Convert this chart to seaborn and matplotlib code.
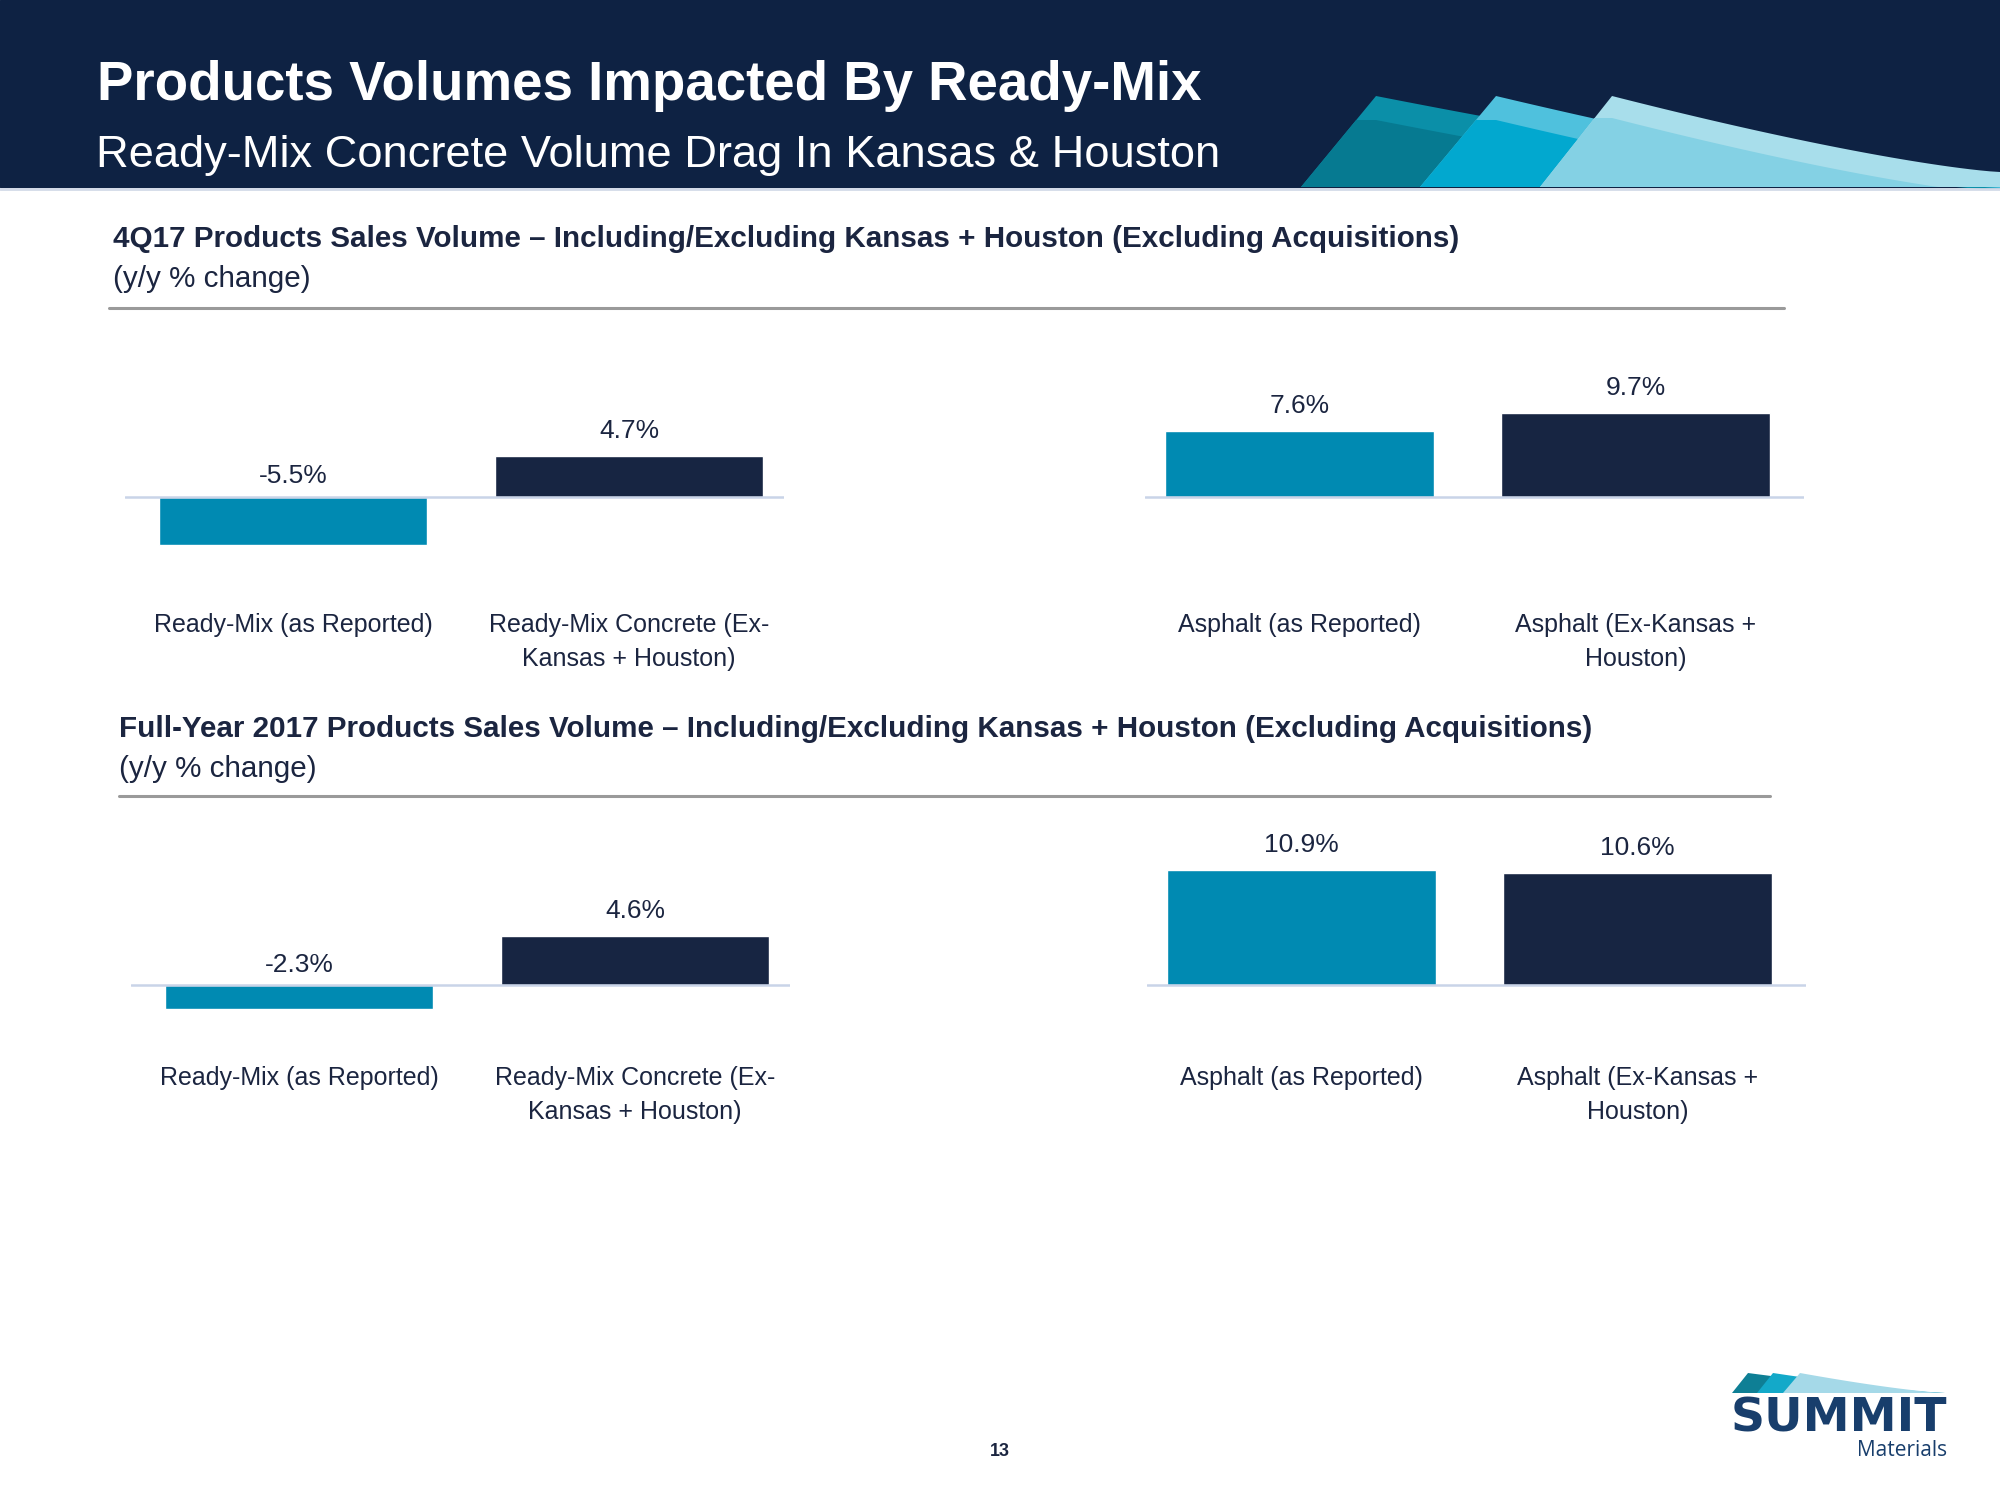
import numpy as np
import matplotlib
matplotlib.use("Agg")
import matplotlib.pyplot as plt
import matplotlib.transforms as mtransforms
from matplotlib.patches import Polygon, Rectangle
from matplotlib.lines import Line2D
import seaborn as sns

# dati (variazione % a/a)
rm_labels = ["Ready-Mix (as Reported)", "Ready-Mix Concrete (Ex-\nKansas + Houston)"]
asphalt_labels = ["Asphalt (as Reported)", "Asphalt (Ex-Kansas +\nHouston)"]
q4_readymix = [-5.5, 4.7]
q4_asphalt = [7.6, 9.7]
fy_readymix = [-2.3, 4.6]
fy_asphalt = [10.9, 10.6]

title = "Products Volumes Impacted By Ready-Mix"
subtitle = "Ready-Mix Concrete Volume Drag In Kansas & Houston"
q4_heading = "4Q17 Products Sales Volume \u2013 Including/Excluding Kansas + Houston (Excluding Acquisitions)"
fy_heading = "Full-Year 2017 Products Sales Volume \u2013 Including/Excluding Kansas + Houston (Excluding Acquisitions)"
unit_label = "(y/y % change)"

TEAL = "#008AB2"
NAVY = "#172542"
HEADER = "#0E2243"
TEXT = "#1B2540"
BASELINE = "#C9D4E8"

sns.set_theme(style="white")
plt.rcParams["font.family"] = ["Liberation Sans Narrow", "Liberation Sans", "DejaVu Sans"]

W, H = 2000, 1500
fig = plt.figure(figsize=(20, 15), dpi=100)
fig.patch.set_facecolor("white")


def fx(x):
    return x / W


def fy(y):
    return 1 - y / H


def px_axes(left, top, width, height):
    return fig.add_axes([fx(left), fy(top + height), width / W, height / H])


# --- intestazione ---
fig.add_artist(Rectangle((0, fy(187)), 1, 187 / H, transform=fig.transFigure,
                         color=HEADER, zorder=0))
fig.add_artist(Line2D([0, 1], [fy(189), fy(189)], color="#D3DAE8", lw=2,
                      transform=fig.transFigure))


def top_curve(px, py, x_end, y_end, n=40):
    t = np.linspace(0, 1, n)
    xs = px + t * (x_end - px)
    ys = py + (y_end - py) * (1 - (1 - t) ** 1.3)
    return list(zip(xs, ys))


def swoosh(left_bottom, peak, base_y, x_end, y_end, upper, lower, band):
    pts = [left_bottom, peak] + top_curve(peak[0], peak[1], x_end, y_end) + [(x_end, base_y)]
    shape = Polygon([(fx(x), fy(y)) for x, y in pts], closed=True,
                    transform=fig.transFigure, facecolor=upper, edgecolor="none")
    fig.add_artist(shape)
    low = [(peak[0] - 300, peak[1] + band)] + \
        [(x, y + band) for x, y in top_curve(peak[0], peak[1], x_end, y_end)] + \
        [(x_end + 50, base_y + 50), (peak[0] - 300, base_y + 50)]
    low_patch = Polygon([(fx(x), fy(y)) for x, y in low], closed=True,
                        transform=fig.transFigure, facecolor=lower, edgecolor="none")
    fig.add_artist(low_patch)
    low_patch.set_clip_path(shape)


swoosh((1301, 187), (1376, 96), 187, 2000, 190, "#0B8FA8", "#067A91", 24)
swoosh((1420, 187), (1496, 96), 187, 2000, 188, "#4FC1DD", "#02A8CF", 24)
swoosh((1540, 187), (1612, 96), 187, 2000, 172, "#A8DEEB", "#84D1E4", 22)

fig.text(fx(97), fy(100), title, color="white", fontsize=39.3, fontweight="bold", va="baseline")
fig.text(fx(96), fy(167), subtitle, color="white", fontsize=32.6, va="baseline")

# --- titoli delle sezioni ---
for x0, base, heading, rule_y, rule_x in [
    (113, 247, q4_heading, 308, (109, 1784)),
    (119, 737, fy_heading, 796, (119, 1770)),
]:
    fig.text(fx(x0), fy(base), heading, color=TEXT, fontsize=21.3, fontweight="bold", va="baseline")
    fig.text(fx(x0), fy(base + 40), unit_label, color=TEXT, fontsize=21.3, va="baseline")
    fig.add_artist(Line2D([fx(rule_x[0]), fx(rule_x[1])], [fy(rule_y), fy(rule_y)],
                          color="#9A9A9A", lw=2.2, transform=fig.transFigure))

# --- pannelli a barre ---
SLOT = 336  # px per categoria
LINE_PITCH = 34  # px tra le righe delle etichette


def panel(left, values, labels, xlim, top, bottom, base_px, ppu, label_base, neg_off):
    width = (xlim[1] - xlim[0]) * SLOT
    ax = px_axes(left, top, width, bottom - top)
    sns.barplot(x=labels, y=values, hue=labels, palette=[TEAL, NAVY], order=labels,
                hue_order=labels, width=0.8, saturation=1, legend=False, ax=ax, zorder=2)
    ax.set_xlim(*xlim)
    ax.set_ylim(-(bottom - base_px) / ppu, (base_px - top) / ppu)
    ax.axhline(0, color=BASELINE, lw=1.8, zorder=3)
    ax.axis("off")
    for i, v in enumerate(values):
        ax.annotate(f"{v:.1f}%", (i, max(v, 0)), xytext=(0, 13 if v > 0 else neg_off),
                    textcoords="offset points", ha="center", va="baseline",
                    fontsize=19, color=TEXT)
    trans = mtransforms.blended_transform_factory(ax.transData, fig.transFigure)
    for i, lab in enumerate(labels):
        for k, line in enumerate(lab.split("\n")):
            ax.text(i, fy(label_base + k * LINE_PITCH), line, transform=trans,
                    ha="center", va="baseline", fontsize=18, color=TEXT)
    return ax


panel(125, q4_readymix, rm_labels, (-0.5, 1.46), 370, 560, 497, 8.7, 632, 10)
panel(1145, q4_asphalt, asphalt_labels, (-0.46, 1.5), 370, 560, 497, 8.7, 632, 10)
panel(131, fy_readymix, rm_labels, (-0.5, 1.46), 820, 1030, 984.5, 10.5, 1085, 9)
panel(1147, fy_asphalt, asphalt_labels, (-0.46, 1.5), 820, 1030, 984.5, 10.5, 1085, 9)

# --- numero di pagina e logo ---
fig.text(fx(1000), fy(1456), "13", ha="center", va="baseline", fontsize=13,
         fontweight="bold", color=TEXT)

for lb, pk, col in [((1732, 1393), (1748, 1373), "#0E7F95"),
                    ((1757, 1393), (1773, 1373), "#13A9C9"),
                    ((1783, 1393), (1800, 1373), "#A5D9E8")]:
    pts = [lb, pk] + top_curve(pk[0], pk[1], 1945, 1393) + [(1945, 1393)]
    fig.add_artist(Polygon([(fx(x), fy(y)) for x, y in pts], closed=True,
                           transform=fig.transFigure, facecolor=col, edgecolor="none"))

fig.text(fx(1947), fy(1431), "SUMMIT", ha="right", va="baseline", fontsize=34,
         fontweight="bold", color="#183E6C", family=["DejaVu Sans"])
fig.text(fx(1947), fy(1456), "Materials", ha="right", va="baseline", fontsize=15,
         color="#183E6C", family=["Open Sans", "DejaVu Sans"])

fig.savefig("out.png", dpi=100, facecolor="white")
